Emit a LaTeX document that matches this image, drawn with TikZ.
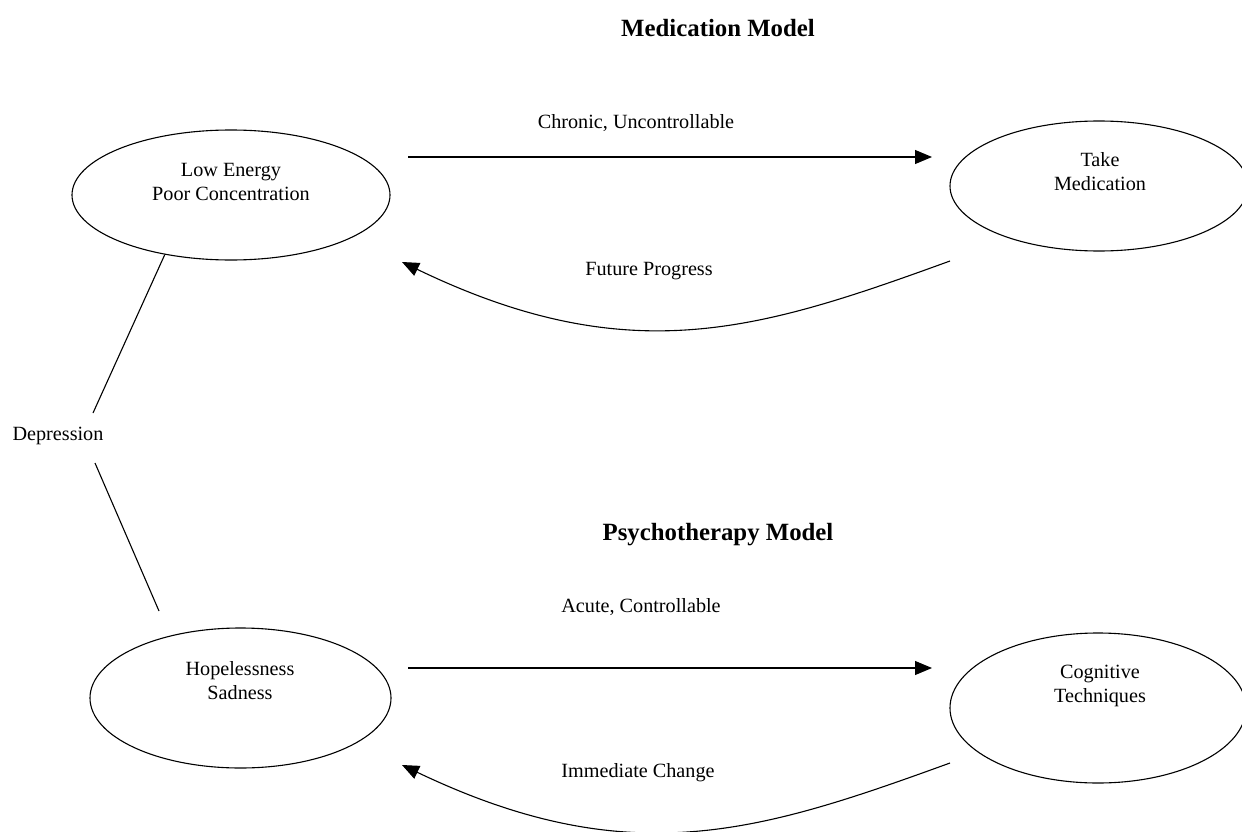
\documentclass[tikz,border=0pt]{standalone}
\usepackage{fontspec}
\setmainfont{Liberation Serif}
\usetikzlibrary{arrows.meta,shapes.geometric,calc}
\tikzset{
  oval/.style={ellipse, draw, line width=1.1pt, inner sep=0pt},
  txt/.style={font=\fontsize{20.2}{24}\selectfont, align=center, inner sep=0pt},
  ttl/.style={font=\fontsize{24.8}{29}\selectfont\bfseries, inner sep=0pt},
  conn/.style={line width=1.1pt},
  arr/.style={line width=1.1pt, -{Triangle[length=17pt,width=14pt]}}
}
\begin{document}
\begin{tikzpicture}[x=1pt,y=-1pt]
\useasboundingbox (0,0) rectangle (1242,832);
\clip (0,0) rectangle (1242,832);
% titles
\node[ttl] (t1) at (718,28) {Medication Model};
\node[ttl] (t2) at (718,535) {Psychotherapy Model};
% ellipses
\node[oval, minimum width=318pt, minimum height=130pt] (le) at (231,195) {};
\node[txt] (let) at (231,182) {Low Energy\\Poor Concentration};
\node[oval, minimum width=298pt, minimum height=130pt] (tm) at (1099,186) {};
\node[txt] (tmt) at (1100,172) {Take\\Medication};
\node[oval, minimum width=301pt, minimum height=140pt] (hs) at (240.5,698) {};
\node[txt] (hst) at (240,681) {Hopelessness\\Sadness};
\node[oval, minimum width=296pt, minimum height=150pt] (ct) at (1098,708) {};
\node[txt] (ctt) at (1100,686) {Cognitive\\Techniques};
% depression
\node[txt] (dep) at (58,436) {Depression};
\coordinate (d1) at (93,413);
\coordinate (d2) at (95,463);
\coordinate (d3) at (159,611);
\draw[conn] (le.222) -- (d1);
\draw[conn] (d2) -- (d3);
% medication arrows
\coordinate (a1s) at (408,157);
\coordinate (a1e) at (932,157);
\draw[arr] (a1s) -- (a1e);
\node[txt] (l1) at (636,123) {Chronic, Uncontrollable};
\coordinate (c1s) at (950,261);
\coordinate (c1e) at (402,262);
\draw[arr] (c1s) .. controls (760,330) and (630,372) .. (c1e);
\node[txt] (l2) at (649,271) {Future Progress};
% psychotherapy arrows
\coordinate (a2s) at (408,668);
\coordinate (a2e) at (932,668);
\draw[arr] (a2s) -- (a2e);
\node[txt] (l3) at (641,607) {Acute, Controllable};
\coordinate (c2s) at (950,763);
\coordinate (c2e) at (402,765);
\draw[arr] (c2s) .. controls (760,832) and (630,874) .. (c2e);
\node[txt] (l4) at (638,773) {Immediate Change};
\end{tikzpicture}
\end{document}
